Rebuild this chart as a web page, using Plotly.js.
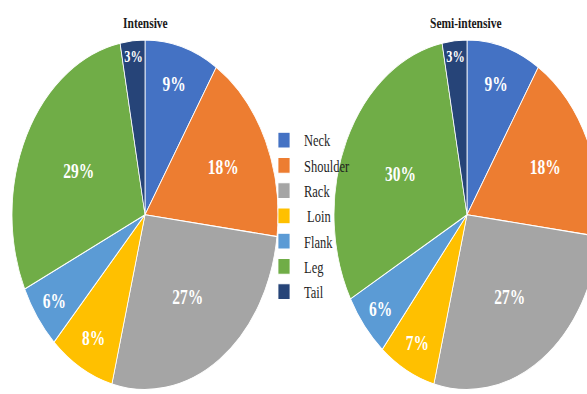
<!DOCTYPE html>
<html>
<head>
<meta charset="utf-8">
<script src="https://cdn.plot.ly/plotly-3.0.1.min.js"></script>
<style>
html,body{margin:0;padding:0;width:587px;height:394px;overflow:hidden;background:#fff;}
#wrap{width:587px;height:394px;overflow:hidden;position:relative;}
#chart{width:620px;height:300px;transform:scaleY(1.3133);transform-origin:0 0;}
</style>
</head>
<body>
<div id="wrap"><div id="chart"></div></div>
<script>
const cuts = ["Neck", "Shoulder", "Rack", " Loin", "Flank", "Leg", "Tail"];
const intensive = [9, 18, 27, 8, 6, 29, 3];
const semiIntensive = [9, 18, 27, 7, 6, 30, 3];
const colors = ["#4472C4", "#ED7D31", "#A5A5A5", "#FFC000", "#5B9BD5", "#70AD47", "#264478"];
const titles = ["Intensive", "Semi-intensive"];

const W = 620, H = 300;
function pie(vals, x0, x1) {
  return {
    type: "pie",
    labels: cuts,
    values: vals,
    sort: false,
    direction: "clockwise",
    rotation: 0,
    textinfo: "percent",
    texttemplate: "%{percent:.0%}",
    textposition: "inside",
    insidetextorientation: "horizontal",
    insidetextfont: {family: "Liberation Serif", size: 15.5, color: "#ffffff", weight: "bold"},
    marker: {colors: colors, line: {color: "#ffffff", width: 0.8}},
    domain: {x: [x0 / W, x1 / W], y: [0.01, 0.9]},
    hoverinfo: "label+percent"
  };
}
const data = [pie(intensive, 12, 278), pie(semiIntensive, 334, 600)];
const titleFont = {family: "Liberation Serif", size: 11.5, color: "#1a1a1a", weight: "bold"};
const layout = {
  width: W, height: H,
  margin: {l: 0, r: 0, t: 0, b: 0},
  paper_bgcolor: "#ffffff",
  showlegend: true,
  legend: {x: 264 / W, y: 1 - 92 / H, xanchor: "left", yanchor: "top",
    font: {family: "Liberation Serif", size: 12.5, color: "#1f1f1f"},
    itemwidth: 30, tracegroupgap: 0, bgcolor: "rgba(0,0,0,0)"},
  annotations: [
    {text: titles[0], x: 145 / W, y: 1 - 17 / H, xref: "paper", yref: "paper",
     xanchor: "center", yanchor: "middle", showarrow: false, font: titleFont},
    {text: titles[1], x: 466 / W, y: 1 - 17 / H, xref: "paper", yref: "paper",
     xanchor: "center", yanchor: "middle", showarrow: false, font: titleFont}
  ]
};
Plotly.newPlot("chart", data, layout, {displayModeBar: false, staticPlot: true});
</script>
</body>
</html>
